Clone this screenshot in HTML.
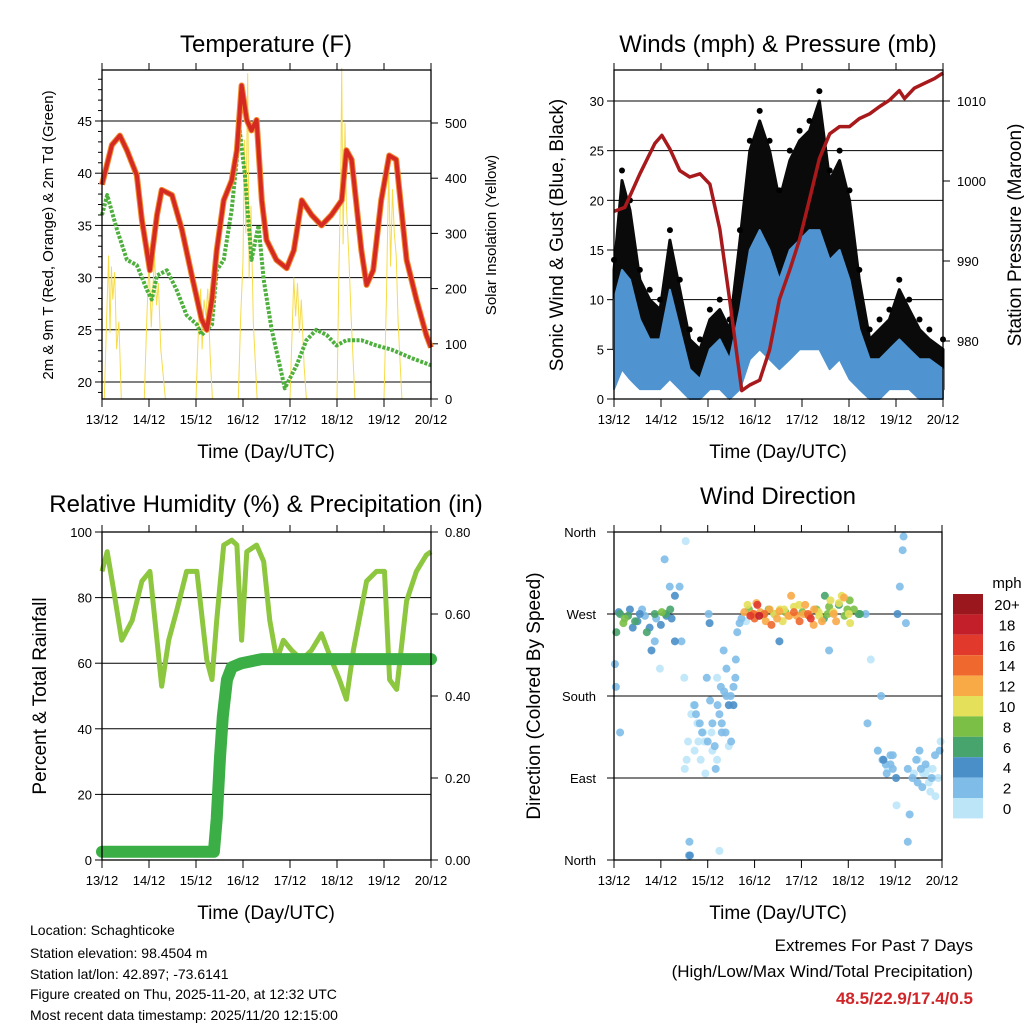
<!DOCTYPE html>
<html><head><meta charset="utf-8">
<style>
html,body{margin:0;padding:0;background:#fff;}
svg{display:block;font-family:"Liberation Sans",Arial,sans-serif;}
</style></head>
<body>
<svg id="c" width="1024" height="1024" viewBox="0 0 1024 1024" xmlns="http://www.w3.org/2000/svg">
<rect width="1024" height="1024" fill="#fff"/>
<g id="layer"></g>
<g font-size="14" fill="#000">
<text x="30" y="935">Location: Schaghticoke</text>
<text x="30" y="958">Station elevation: 98.4504 m</text>
<text x="30" y="979">Station lat/lon: 42.897; -73.6141</text>
<text x="30" y="999">Figure created on Thu, 2025-11-20, at 12:32 UTC</text>
<text x="30" y="1020">Most recent data timestamp: 2025/11/20 12:15:00</text>
</g>
<g text-anchor="end">
<text x="973" y="951" font-size="17">Extremes For Past 7 Days</text>
<text x="973" y="977" font-size="17">(High/Low/Max Wind/Total Precipitation)</text>
<text x="973" y="1004" font-size="17" font-weight="bold" fill="#d0262a">48.5/22.9/17.4/0.5</text>
</g>
</svg>
<script>
// ---------- DATA ----------
const dayLabels=["13/12","14/12","15/12","16/12","17/12","18/12","19/12","20/12"];
// Temperature panel
const tempTimes=[0,0.21,0.38,0.53,0.74,0.85,1.02,1.17,1.27,1.49,1.70,1.91,2.12,2.23,2.34,2.44,2.59,2.76,2.87,2.97,3.08,3.18,3.29,3.40,3.50,3.71,3.93,4.08,4.25,4.46,4.67,4.88,5.10,5.20,5.31,5.52,5.63,5.77,5.94,6.11,6.26,6.48,6.69,6.90,7.0];
const tempT=[38.9,42.7,43.6,42.2,39.8,35.5,30.7,36,38.4,37.9,34.6,30.2,26,25,27.9,32.6,37.4,39.3,42.2,48.4,45.1,44.1,45.1,37.4,33.6,31.7,30.9,32.6,37.4,36,35,36,37.4,42.2,41.3,32.6,29.3,30.7,37.4,41.7,41.3,31.7,27.9,24.5,23.3];
const dewTimes=[0,0.11,0.32,0.53,0.74,0.96,1.06,1.17,1.38,1.59,1.80,2.02,2.12,2.34,2.44,2.59,2.76,2.93,3.04,3.18,3.33,3.44,3.61,3.78,3.89,4.14,4.35,4.56,4.78,4.99,5.20,5.52,5.84,6.16,6.58,7.0];
const dewT=[36,37.9,34.6,31.7,31.2,28.8,27.9,30.2,30.7,28.8,26.4,25.5,24.5,25.5,30.7,31.7,36.5,44.1,39.8,31.7,35,29.8,25,21.6,19.4,21.6,24,25,24.5,23.5,24,24,23.5,23.1,22.3,21.6];
const solarTimes=[0.05,0.1,0.14,0.17,0.2,0.23,0.27,0.31,0.36,0.41, 0.9,0.95,1.0,1.05,1.08,1.12,1.16,1.2,1.25,1.35, 2.0,2.05,2.1,2.13,2.17,2.21,2.25,2.3,2.35, 2.9,2.95,3.0,3.03,3.06,3.1,3.13,3.17,3.22,3.3, 4.0,4.04,4.08,4.12,4.16,4.2,4.24,4.3,4.35, 5.0,5.04,5.08,5.1,5.13,5.17,5.2,5.25,5.3,5.38, 6.0,6.05,6.1,6.14,6.18,6.22,6.26,6.3,6.38];
const solarVals=[0,150,260,120,240,180,230,90,140,0, 0,140,250,130,200,260,170,210,90,0, 0,120,200,90,180,150,200,80,0, 0,150,250,470,300,590,220,350,140,0, 0,110,220,150,210,120,180,60,0, 0,230,400,600,280,500,350,260,150,0, 0,180,420,240,380,300,260,140,0];
// Winds panel
const windTimes=[0,0.17,0.34,0.55,0.76,0.98,1.19,1.40,1.61,1.83,2.04,2.25,2.46,2.68,2.89,3.10,3.31,3.52,3.74,3.95,4.16,4.37,4.59,4.80,5.01,5.22,5.44,5.65,5.86,6.07,6.28,6.50,6.71,7.0];
const gustHi=[13,22,19,12,10,9,16,11,6,5,8,9,7,16,25,28,25,20,24,26,27,30,22,24,20,12,6,7,8,11,9,7,6,5];
const gustLo=[5,12,8,4,3,3,6,4,1,1,2,3,1,5,14,15,13,10,12,13,14,15,11,12,8,3,2,2,3,4,3,2,2,1];
const sustHi=[10,13,12,8,6,6,11,7,3,2,5,6,4,9,15,17,15,12,15,16,17,17,14,15,12,7,4,4,5,6,5,4,4,3];
const sustLo=[1,3,2,1,1,1,2,1,0,0,1,1,0,1,4,5,4,3,4,5,5,5,3,4,2,1,0,0,1,1,1,0,0,0];
const pressTimes=[0,0.23,0.55,0.87,1.02,1.19,1.40,1.61,1.83,2.04,2.25,2.46,2.63,2.72,2.89,3.10,3.31,3.52,3.74,3.95,4.16,4.37,4.59,4.80,5.01,5.22,5.44,5.65,5.86,6.07,6.18,6.39,6.60,6.82,7.0];
const pressVals=[996.2,996.7,1000.9,1004.7,1005.7,1004,1001.3,1000.5,1000.9,999.6,994,985.2,977.6,973.8,974.5,975.1,978.9,985.2,988.9,992.7,997.7,1002.8,1005.9,1006.8,1006.8,1007.8,1008.4,1009.3,1010.1,1011.3,1010.3,1011.6,1012.2,1012.8,1013.5];
// RH panel
const rhTimes=[0,0.11,0.25,0.42,0.64,0.85,1.02,1.17,1.27,1.42,1.59,1.80,2.02,2.23,2.34,2.44,2.59,2.76,2.87,2.97,3.08,3.29,3.44,3.57,3.72,3.86,4.03,4.25,4.46,4.67,4.88,5.05,5.20,5.35,5.63,5.84,6.01,6.12,6.27,6.48,6.69,6.90,7.0];
const rhVals=[88,94,82,67,73,85,88,67,53,67,76,88,88,61,55,73,96,97.5,96,67,94,96,91,73,61,67,64,61,64,69,61,55,49,64,85,88,88,55,52,79,88,93,94];
const rainTimes=[0,2.38,2.44,2.51,2.57,2.66,2.76,2.97,3.40,7.0];
const rainVals=[0.02,0.02,0.1,0.25,0.35,0.44,0.47,0.48,0.49,0.49];
// Wind direction panel
const dirTimes=[0.13,0.23,0.34,0.45,0.55,0.66,0.76,0.87,1.02,1.12,1.23,0.02,0.04,0.13,0.87,0.98,1.08,1.19,1.30,1.40,1.44,1.51,1.53,1.61,1.62,1.72,1.72,1.83,1.93,1.98,2.02,2.04,2.08,2.17,2.21,2.28,2.34,2.38,2.49,2.55,2.59,2.63,2.68,2.72,2.78,2.85,2.91,2.98,3.04,3.10,3.21,3.32,3.42,3.53,3.63,3.74,3.84,3.95,4.05,4.16,4.27,4.37,4.48,4.59,4.69,4.80,4.91,5.01,5.12,5.22,5.03,5.25,3.53,4.59,5.37,5.48,5.41,5.63,5.73,5.84,5.95,6.05,6.10,6.16,6.18,6.23,6.27,6.27,6.37,6.48,6.58,6.69,6.78,6.86,6.03,6.31,6.48,5.63,1.55,1.58,1.65,1.70,1.78,1.88,2.00,2.10,2.20,2.30,2.40,1.50,1.60,2.25,2.45,5.70,5.80,5.90,6.40,6.55,6.65,6.75,6.95,
 2.82,2.88,2.94,3.0,3.06,3.12,3.18,3.24,3.3,3.36,3.42,3.48,3.54,3.6,3.66,3.72,3.78,3.84,3.9,3.96,4.02,4.08,4.14,4.2,4.26,4.32,4.38,4.44,4.5,4.56,4.62,4.68,4.74,4.8,4.86,4.92,4.98,5.04,
 0.05,0.1,0.2,0.3,0.4,0.5,0.6,0.7,0.8,0.9,1.0,1.1,1.2,1.3,
 1.75,1.8,1.85,1.9,1.95,2.05,2.1,2.15,2.2,2.25,2.3,2.35,2.4,2.45,2.5,2.55,2.6,
 5.75,5.82,5.9,5.95,6.02,6.45,6.52,6.6,6.65,6.72,6.8,6.85,6.92,6.97];
const dirVals=[270,265,275,262,270,268,255,270,272,268,265,215,190,140,240,210,330,300,290,300,240,100,350,20,5,120,170,150,130,200,270,260,140,100,170,190,230,140,180,170,200,250,260,265,272,280,268,270,282,268,270,275,270,273,275,268,272,280,270,268,275,272,265,278,270,282,288,270,275,270,285,270,240,230,270,220,150,120,110,100,115,270,300,340,355,260,20,100,90,110,80,100,90,70,60,50,85,120,110,130,160,170,150,140,130,120,110,150,180,200,5,10,125,180,105,115,95,100,95,75,120,
 262,275,270,265,280,272,268,262,275,258,270,265,275,262,272,268,290,278,268,262,272,280,270,265,258,275,268,262,290,270,285,272,262,280,290,268,275,260,
 250,272,260,268,255,262,275,250,230,265,258,270,275,240,
 160,130,110,140,95,175,150,125,200,160,140,185,210,170,130,190,220,
 110,95,105,100,90,110,120,95,105,85,100,115,90,130];
const dirSpeed=[6,8,4,7,5,3,4,6,8,4,5,3,2,2,2,1,2,2,4,3,2,1,1,3,4,1,2,2,1,2,3,4,1,2,3,2,2,2,3,4,2,2,3,2,12,10,16,14,12,18,14,12,10,12,11,13,14,10,12,15,12,10,6,8,12,10,12,10,8,6,9,6,4,3,2,1,2,2,2,1,3,4,3,3,2,2,2,3,2,1,2,1,2,1,1,2,2,1,1,1,1,0,1,3,2,1,0,2,3,1,2,0,0,3,3,2,1,3,0,1,2,0,
 8,12,14,16,12,10,12,8,14,6,12,10,11,9,12,13,10,12,14,8,12,15,16,12,8,10,12,6,9,11,10,12,7,10,9,8,11,6,
 4,8,6,4,5,3,6,4,2,5,6,7,4,3,
 0,1,0,1,2,2,2,1,3,2,2,3,4,3,2,3,4,
 2,3,2,4,2,2,1,2,1,0,2,1,0,1];
const speedBins=["0","2","4","6","8","10","12","14","16","18","20+"];
const binColors=["#bde5f8","#7fbde8","#4a8fc8","#47a46d","#7bbf47","#e4e05a","#f8aa47","#ef682d","#e1392b","#c21f2a","#9a181d"];

// ---------- HELPERS ----------
const NS="http://www.w3.org/2000/svg";
const root=document.getElementById('layer');
function mk(tag,attrs,parent){const e=document.createElementNS(NS,tag);for(const k in attrs)e.setAttribute(k,attrs[k]);(parent||root).appendChild(e);return e;}
function txt(x,y,s,size,anchor,parent,extra){const t=mk('text',Object.assign({x:x,y:y,'font-size':size,'text-anchor':anchor||'middle'},extra||{}),parent);t.textContent=s;return t;}
function linScale(d0,d1,r0,r1){return v=>r0+(v-d0)*(r1-r0)/(d1-d0);}
function pathD(xs,ys,sx,sy){return xs.map((t,i)=>(i?'L':'M')+sx(t).toFixed(1)+','+sy(ys[i]).toFixed(1)).join(' ');}
function bandD(xs,hi,lo,sx,sy){let d=pathD(xs,hi,sx,sy);for(let i=xs.length-1;i>=0;i--)d+=' L'+sx(xs[i]).toFixed(1)+','+sy(lo[i]).toFixed(1);return d+' Z';}

function frame(g,L,T,R,B,sx){
  for(let d=0;d<=7;d++){const x=sx(d);
    mk('line',{x1:x,y1:B,x2:x,y2:B+8,stroke:'#000','stroke-width':1},g);
    mk('line',{x1:x,y1:T,x2:x,y2:T-7,stroke:'#000','stroke-width':1},g);
    const t=txt(x,B+25,dayLabels[d],13,'middle',g);
    
    
  }
  mk('rect',{x:L,y:T,width:R-L,height:B-T,fill:'none',stroke:'#000','stroke-width':1.3},g);
}

// ---------- PANEL 1: TEMPERATURE ----------
(function(){
  const L=102,R=431,T=70,B=399;
  const g=mk('g',{});
  
  
  const sx=linScale(0,7,L,R), sy=linScale(20,45,382,121), sr=linScale(0,500,399,123);
  [20,25,30,35,40,45].forEach(v=>{mk('line',{x1:L,x2:R,y1:sy(v),y2:sy(v),stroke:'#000','stroke-width':1},g);
    mk('line',{x1:L-7,x2:L,y1:sy(v),y2:sy(v),stroke:'#000'},g);
    const t=txt(L-10,sy(v)+5,String(v),13,'end',g);});
  for(let v=19;v<=49;v++){if(v%5)mk('line',{x1:L-4,x2:L,y1:sy(v),y2:sy(v),stroke:'#000'},g);}
  [0,100,200,300,400,500].forEach(v=>{mk('line',{x1:R,x2:R+7,y1:sr(v),y2:sr(v),stroke:'#000'},g);
    const t=txt(R+14,sr(v)+5,String(v),13,'start',g);});
  const sol=mk('path',{d:pathD(solarTimes,solarVals,sx,sr),fill:'none',stroke:'#f6dc4a','stroke-width':1},g);
  
  const dew=mk('path',{d:pathD(dewTimes,dewT,sx,sy),fill:'none',stroke:'#4daf3c','stroke-width':4,'stroke-dasharray':'3 1.5','stroke-linejoin':'round'},g);
  
  const t9=mk('path',{d:pathD(tempTimes,tempT,sx,sy),fill:'none',stroke:'#f08a30','stroke-width':6,'stroke-linejoin':'round'},g);
  
  const t2=mk('path',{d:pathD(tempTimes,tempT,sx,sy),fill:'none',stroke:'#d42a22','stroke-width':4,'stroke-linejoin':'round'},g);
  
  frame(g,L,T,R,B,sx);
  let e=txt(266,52,'Temperature (F)',24,'middle',g);
  e=txt(266,458,'Time (Day/UTC)',19,'middle',g);
  e=txt(0,0,'2m & 9m T (Red, Orange) & 2m Td (Green)',15,'middle',g,{transform:'translate(53,235) rotate(-90)'});
  e=txt(0,0,'Solar Insolation (Yellow)',15,'middle',g,{transform:'translate(496,235) rotate(-90)'});
})();

// ---------- PANEL 2: WINDS ----------
(function(){
  const L=614,R=943,T=70,B=399;
  const g=mk('g',{});
  
  
  const sx=linScale(0,7,L,R), sy=linScale(0,30,399,101), sp=linScale(980,1010,341,101);
  [5,10,15,20,25,30].forEach(v=>mk('line',{x1:L,x2:R,y1:sy(v),y2:sy(v),stroke:'#000'},g));
  [0,5,10,15,20,25,30].forEach(v=>{mk('line',{x1:L-7,x2:L,y1:sy(v),y2:sy(v),stroke:'#000'},g);
    const t=txt(L-10,sy(v)+5,String(v),13,'end',g);});
  [980,990,1000,1010].forEach(v=>{mk('line',{x1:R,x2:R+7,y1:sp(v),y2:sp(v),stroke:'#000'},g);
    const t=txt(R+14,sp(v)+5,String(v),13,'start',g);});
  const gb=mk('path',{d:bandD(windTimes,gustHi,gustLo,sx,sy),fill:'#0a0a0a',stroke:'#0a0a0a','stroke-width':3,'stroke-linejoin':'round'},g);
  
  gustHi.forEach((v,i)=>{const c=mk('circle',{cx:sx(windTimes[i]),cy:sy(v+1),r:3,fill:'#000'},g);
    });
  const sb=mk('path',{d:bandD(windTimes,sustHi,sustLo,sx,sy),fill:'#4f94d0',stroke:'#4f94d0','stroke-width':2,'stroke-linejoin':'round'},g);
  
  const pl=mk('path',{d:pathD(pressTimes,pressVals,sx,sp),fill:'none',stroke:'#a8191c','stroke-width':3.5,'stroke-linejoin':'round'},g);
  
  frame(g,L,T,R,B,sx);
  let e=txt(778,52,'Winds (mph) & Pressure (mb)',24,'middle',g);
  e=txt(778,458,'Time (Day/UTC)',19,'middle',g);
  e=txt(0,0,'Sonic Wind & Gust (Blue, Black)',19,'middle',g,{transform:'translate(563,235) rotate(-90)'});
  e=txt(0,0,'Station Pressure (Maroon)',19,'middle',g,{transform:'translate(1021,235) rotate(-90)'});
})();

// ---------- PANEL 3: RH & PRECIP ----------
(function(){
  const L=102,R=431,T=532,B=860;
  const g=mk('g',{});
  
  
  const sx=linScale(0,7,L,R), sy=linScale(0,100,860,532), sr=linScale(0,0.8,860,532);
  [20,40,60,80].forEach(v=>mk('line',{x1:L,x2:R,y1:sy(v),y2:sy(v),stroke:'#000'},g));
  [0,20,40,60,80,100].forEach(v=>{mk('line',{x1:L-7,x2:L,y1:sy(v),y2:sy(v),stroke:'#000'},g);
    const t=txt(L-10,sy(v)+5,String(v),13,'end',g);});
  [0,0.2,0.4,0.6,0.8].forEach(v=>{mk('line',{x1:R,x2:R+7,y1:sr(v),y2:sr(v),stroke:'#000'},g);
    const t=txt(R+14,sr(v)+5,v.toFixed(2),13,'start',g);});
  const rh=mk('path',{d:pathD(rhTimes,rhVals,sx,sy),fill:'none',stroke:'#8dc63f','stroke-width':5,'stroke-linejoin':'round'},g);
  
  const rn=mk('path',{d:pathD(rainTimes,rainVals,sx,sr),fill:'none',stroke:'#3cae46','stroke-width':12,'stroke-linejoin':'round','stroke-linecap':'round'},g);
  
  frame(g,L,T,R,B,sx);
  let e=txt(266,512,'Relative Humidity (%) & Precipitation (in)',24,'middle',g);
  e=txt(266,919,'Time (Day/UTC)',19,'middle',g);
  e=txt(0,0,'Percent & Total Rainfall',19,'middle',g,{transform:'translate(46,696) rotate(-90)'});
})();

// ---------- PANEL 4: WIND DIRECTION ----------
(function(){
  const L=614,R=942,T=532,B=860;
  const g=mk('g',{});
  
  
  const sx=linScale(0,7,L,R), sy=linScale(0,360,860,532);
  const dirNames=['North','East','South','West','North'];
  [90,180,270].forEach(v=>mk('line',{x1:L,x2:R,y1:sy(v),y2:sy(v),stroke:'#000'},g));
  [0,90,180,270,360].forEach((v,i)=>{mk('line',{x1:L-7,x2:L,y1:sy(v),y2:sy(v),stroke:'#000'},g);
    const t=txt(L-18,sy(v)+5,dirNames[i],13,'end',g);});
  const order=dirTimes.map((t,i)=>i).sort((a,b)=>dirSpeed[a]-dirSpeed[b]);
  order.forEach(i=>{const bin=Math.min(10,Math.floor(dirSpeed[i]/2));
    const c=mk('circle',{cx:sx(dirTimes[i]),cy:sy(dirVals[i]),r:4,fill:binColors[bin],'fill-opacity':0.9},g);
    });
  frame(g,L,T,R,B,sx);
  const cb=mk('g',{},g);
  
  
  const n=speedBins.length;
  for(let k=0;k<n;k++){const idx=n-1-k;const y=594+k*20.4;
    const r=mk('rect',{x:953,y:y,width:30,height:20.4,fill:binColors[idx]},cb);
    
    const t=txt(1007,y+16,speedBins[idx],15,'middle',cb);}
  let e=txt(1007,588,'mph',15,'middle',cb);
  e=txt(778,504,'Wind Direction',24,'middle',g);
  e=txt(778,919,'Time (Day/UTC)',19,'middle',g);
  e=txt(0,0,'Direction (Colored By Speed)',19,'middle',g,{transform:'translate(540,696) rotate(-90)'});
})();
</script>
</body></html>
